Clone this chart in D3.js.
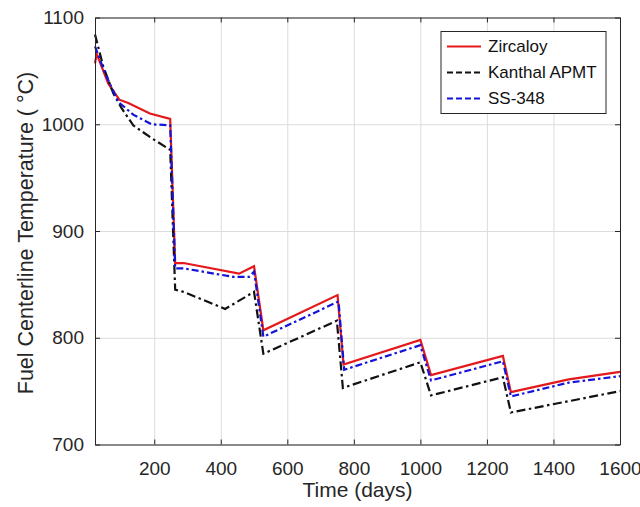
<!DOCTYPE html>
<html>
<head>
<meta charset="utf-8">
<script src="https://cdn.jsdelivr.net/npm/d3@7"></script>
<style>
  body { margin: 0; background: #fff; }
  svg { font-family: "Liberation Sans", Arial, sans-serif; }
  .axis path, .axis line { stroke: #262626; }
  .axis text { fill: #262626; font-size: 19px; }
  .grid line { stroke: #dcdcdc; stroke-width: 1; }
  .grid path { display: none; }
</style>
</head>
<body>
<svg id="chart" width="640" height="507"></svg>
<script>
// values
var xTicks = [200, 400, 600, 800, 1000, 1200, 1400, 1600];
var yTicks = [700, 800, 900, 1000, 1100];

var zircDays = [22, 27, 62, 95, 122, 187, 248, 263, 288, 455, 500, 528, 751, 769, 1000, 1032, 1248, 1272, 1446, 1600];
var zircTemp = [1057, 1066, 1038, 1023, 1020, 1010, 1005, 870, 870, 860, 867, 807, 840, 775, 798, 765, 783, 749, 761, 768];

var kanthalDays = [22, 47, 77, 102, 137, 192, 248, 263, 288, 413, 500, 528, 749, 767, 1000, 1032, 1248, 1272, 1600];
var kanthalTemp = [1084, 1054, 1029, 1015, 999, 987, 976, 845, 843, 827, 843, 785, 816, 753, 777, 746, 763, 730, 750];

var ssDays = [22, 52, 92, 137, 192, 248, 263, 288, 438, 485, 500, 528, 754, 771, 1000, 1032, 1248, 1272, 1446, 1600];
var ssTemp = [1073, 1048, 1021, 1009, 1000, 999, 865, 865, 857, 857, 862, 801, 834, 770, 793, 760, 778, 745, 758, 764];

var seriesNames = ["Zircaloy", "Kanthal APMT", "SS-348"];
var seriesColors = ["#e3191c", "#111111", "#1414d8"];
var seriesDash = [null, "9,3.5,2.5,3.5", "7,3,2.5,3"];

var series = [
  {name: seriesNames[0], days: zircDays, temp: zircTemp},
  {name: seriesNames[1], days: kanthalDays, temp: kanthalTemp},
  {name: seriesNames[2], days: ssDays, temp: ssTemp}
];

var margin = {top: 17.5, right: 20, bottom: 62.5, left: 95},
    width = 620 - margin.left,
    height = 444.5 - margin.top;

var x = d3.scaleLinear().domain([22, 1600]).range([0, width]);
var y = d3.scaleLinear().domain([700, 1100]).range([height, 0]);

var svg = d3.select("#chart")
  .append("g")
  .attr("transform", "translate(" + margin.left + "," + margin.top + ")");

// grid lines
svg.append("g")
  .attr("class", "grid")
  .attr("transform", "translate(0," + height + ")")
  .call(d3.axisBottom(x).tickValues(xTicks).tickSize(-height).tickFormat(""));
svg.append("g")
  .attr("class", "grid")
  .call(d3.axisLeft(y).tickValues(yTicks).tickSize(-width).tickFormat(""));

// lines
var line = d3.line()
  .x(function(d) { return x(d[0]); })
  .y(function(d) { return y(d[1]); });

series.forEach(function(s, i) {
  var pts = s.days.map(function(d, j) { return [d, s.temp[j]]; });
  svg.append("path")
    .datum(pts)
    .attr("fill", "none")
    .attr("stroke", seriesColors[i])
    .attr("stroke-width", 2.2)
    .attr("stroke-dasharray", seriesDash[i])
    .attr("d", line);
});

// box axes, ticks pointing inward
var fmt = d3.format("d");
svg.append("g")
  .attr("class", "axis")
  .attr("transform", "translate(0," + height + ")")
  .call(d3.axisBottom(x).tickValues(xTicks).tickFormat(fmt).tickSizeInner(-5).tickSizeOuter(0).tickPadding(12))
  .selectAll("text").attr("dy", "0.95em");
svg.append("g")
  .attr("class", "axis")
  .call(d3.axisTop(x).tickValues(xTicks).tickSizeInner(-5).tickSizeOuter(0).tickFormat(""));
svg.append("g")
  .attr("class", "axis")
  .call(d3.axisLeft(y).tickValues(yTicks).tickFormat(fmt).tickSizeInner(-5).tickSizeOuter(0).tickPadding(11));
svg.append("g")
  .attr("class", "axis")
  .attr("transform", "translate(" + width + ",0)")
  .call(d3.axisRight(y).tickValues(yTicks).tickSizeInner(-5).tickSizeOuter(0).tickFormat(""));

// axis labels
svg.append("text")
  .attr("x", width / 2)
  .attr("y", height + 52)
  .attr("text-anchor", "middle")
  .attr("fill", "#262626")
  .style("font-size", "21px")
  .text("Time (days)");

svg.append("text")
  .attr("transform", "rotate(-90)")
  .attr("x", -(233 - margin.top))
  .attr("y", -62)
  .attr("text-anchor", "middle")
  .attr("fill", "#262626")
  .style("font-size", "21.5px")
  .text("Fuel Centerline Temperature ( \u00b0C)");

// legend
var legend = svg.append("g")
  .attr("transform", "translate(" + (441 - margin.left) + "," + (31.5 - margin.top) + ")");
legend.append("rect")
  .attr("width", 165)
  .attr("height", 82)
  .attr("fill", "#fff")
  .attr("stroke", "#262626")
  .attr("stroke-width", 1);
seriesNames.forEach(function(n, i) {
  var ly = 15 + i * 26;
  legend.append("line")
    .attr("x1", 6).attr("x2", 40)
    .attr("y1", ly).attr("y2", ly)
    .attr("stroke", seriesColors[i])
    .attr("stroke-width", 2)
    .attr("stroke-dasharray", i == 0 ? null : "6,3");
  legend.append("text")
    .attr("x", 47)
    .attr("y", ly)
    .attr("dy", "0.35em")
    .attr("fill", "#111")
    .style("font-size", "17px")
    .text(n);
});
</script>
</body>
</html>
